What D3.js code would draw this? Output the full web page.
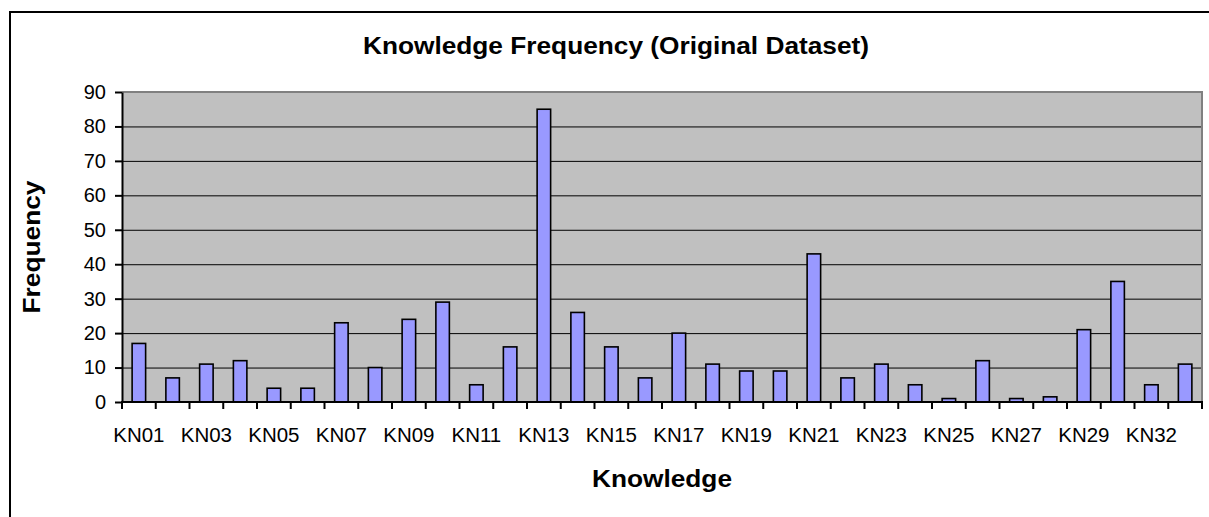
<!DOCTYPE html>
<html>
<head>
<meta charset="utf-8">
<script src="https://cdn.jsdelivr.net/npm/d3@7"></script>
<style>
  body { margin: 0; background: #fff; }
  svg { display: block; font-family: "Liberation Sans", Arial, sans-serif; }
</style>
</head>
<body>
<div id="chart-area"></div>
<script>
// Knowledge frequency bars
const categories = ["KN01", "KN02", "KN03", "KN04", "KN05", "KN06", "KN07", "KN08",
  "KN09", "KN10", "KN11", "KN12", "KN13", "KN14", "KN15", "KN16", "KN17", "KN18",
  "KN19", "KN20", "KN21", "KN22", "KN23", "KN24", "KN25", "KN26", "KN27", "KN28",
  "KN29", "KN30", "KN32", "KN33"];
const frequency = [17, 7, 11, 12, 4, 4, 23, 10, 24, 29, 5, 16, 85, 26, 16, 7, 20, 11,
  9, 9, 43, 7, 11, 5, 1, 12, 1, 1.5, 21, 35, 5, 11];
const xTickLabels = ["KN01", "KN03", "KN05", "KN07", "KN09", "KN11", "KN13", "KN15",
  "KN17", "KN19", "KN21", "KN23", "KN25", "KN27", "KN29", "KN32"];
const yTicks = [0, 10, 20, 30, 40, 50, 60, 70, 80, 90];

const titleText = "Knowledge Frequency (Original Dataset)";
const xTitle = "Knowledge";
const yTitle = "Frequency";

const width = 1209;
const height = 517;
const plot = { left: 122, right: 1202, top: 92, bottom: 402 };

const svg = d3.select("#chart-area")
  .append("svg")
  .attr("width", width)
  .attr("height", height);

// outer chart frame (runs off the right and bottom edges)
svg.append("rect")
  .attr("x", 10).attr("y", 12)
  .attr("width", 1212).attr("height", 520)
  .attr("fill", "#fff")
  .attr("stroke", "#000")
  .attr("stroke-width", 2);

const y = d3.scaleLinear().domain([0, 90]).range([plot.bottom, plot.top]);

// bars sit in the middle of each slot, gap width 150%
const x = d3.scaleBand()
  .domain(categories)
  .range([plot.left, plot.right])
  .paddingInner(0.6)
  .paddingOuter(0.3);

// slot scale used for tick marks and labels
const slot = d3.scaleBand()
  .domain(categories)
  .range([plot.left, plot.right])
  .padding(0);

// plot background
svg.append("rect")
  .attr("x", plot.left).attr("y", plot.top)
  .attr("width", plot.right - plot.left)
  .attr("height", plot.bottom - plot.top)
  .attr("fill", "#c0c0c0");

// gridlines
const grid = svg.append("g")
  .attr("transform", `translate(${plot.left},0)`)
  .call(d3.axisLeft(y).tickValues(yTicks.filter(d => d > 0 && d < 90))
    .tickSize(-(plot.right - plot.left)).tickFormat(""));
grid.select(".domain").remove();
grid.selectAll("line").attr("stroke", "#000").attr("stroke-width", 1);

// gray top and right border of the plot
svg.append("path")
  .attr("d", `M${plot.left},${plot.top}H${plot.right}V${plot.bottom}`)
  .attr("fill", "none")
  .attr("stroke", "#808080")
  .attr("stroke-width", 2);

// bars
svg.append("g")
  .selectAll("rect")
  .data(categories)
  .join("rect")
  .attr("x", d => x(d))
  .attr("y", (d, i) => y(frequency[i]))
  .attr("width", x.bandwidth())
  .attr("height", (d, i) => y(0) - y(frequency[i]))
  .attr("fill", "#9999ff")
  .attr("stroke", "#000")
  .attr("stroke-width", 1.6);

// y axis
const yAxis = svg.append("g")
  .attr("transform", `translate(${plot.left},0)`)
  .call(d3.axisLeft(y).tickValues(yTicks).tickSize(7).tickSizeOuter(0).tickPadding(9));
yAxis.select(".domain").attr("stroke", "#000").attr("stroke-width", 2);
yAxis.selectAll("line").attr("stroke", "#000").attr("stroke-width", 2);
yAxis.selectAll("text")
  .attr("fill", "#000")
  .style("font-size", "20px");

// x axis: ticks on the slot boundaries
const xAxis = svg.append("g");
xAxis.append("line")
  .attr("x1", plot.left - 1).attr("x2", plot.right + 1)
  .attr("y1", plot.bottom).attr("y2", plot.bottom)
  .attr("stroke", "#000")
  .attr("stroke-width", 2);
xAxis.selectAll(".tick-mark")
  .data(categories.concat(["end"]))
  .join("line")
  .attr("class", "tick-mark")
  .attr("x1", d => d === "end" ? plot.right : slot(d))
  .attr("x2", d => d === "end" ? plot.right : slot(d))
  .attr("y1", plot.bottom)
  .attr("y2", plot.bottom + 7)
  .attr("stroke", "#000")
  .attr("stroke-width", 2);

// every other category gets a label
xAxis.selectAll(".tick-label")
  .data(xTickLabels)
  .join("text")
  .attr("class", "tick-label")
  .attr("x", (d, i) => slot(categories[i * 2]) + slot.bandwidth() / 2)
  .attr("y", 442)
  .attr("text-anchor", "middle")
  .style("font-size", "20.5px")
  .text(d => d);

// titles - the original text is a bit wider than tall, so stretch to its width
svg.append("text")
  .attr("x", 616)
  .attr("y", 54)
  .attr("text-anchor", "middle")
  .attr("textLength", 506)
  .attr("lengthAdjust", "spacingAndGlyphs")
  .style("font-size", "24px")
  .style("font-weight", "bold")
  .text(titleText);

svg.append("text")
  .attr("x", (plot.left + plot.right) / 2)
  .attr("y", 487)
  .attr("text-anchor", "middle")
  .attr("textLength", 140)
  .attr("lengthAdjust", "spacingAndGlyphs")
  .style("font-size", "24px")
  .style("font-weight", "bold")
  .text(xTitle);

svg.append("text")
  .attr("transform", `translate(40,${(plot.top + plot.bottom) / 2}) rotate(-90)`)
  .attr("text-anchor", "middle")
  .attr("textLength", 133)
  .attr("lengthAdjust", "spacingAndGlyphs")
  .style("font-size", "24px")
  .style("font-weight", "bold")
  .text(yTitle);
</script>
</body>
</html>
